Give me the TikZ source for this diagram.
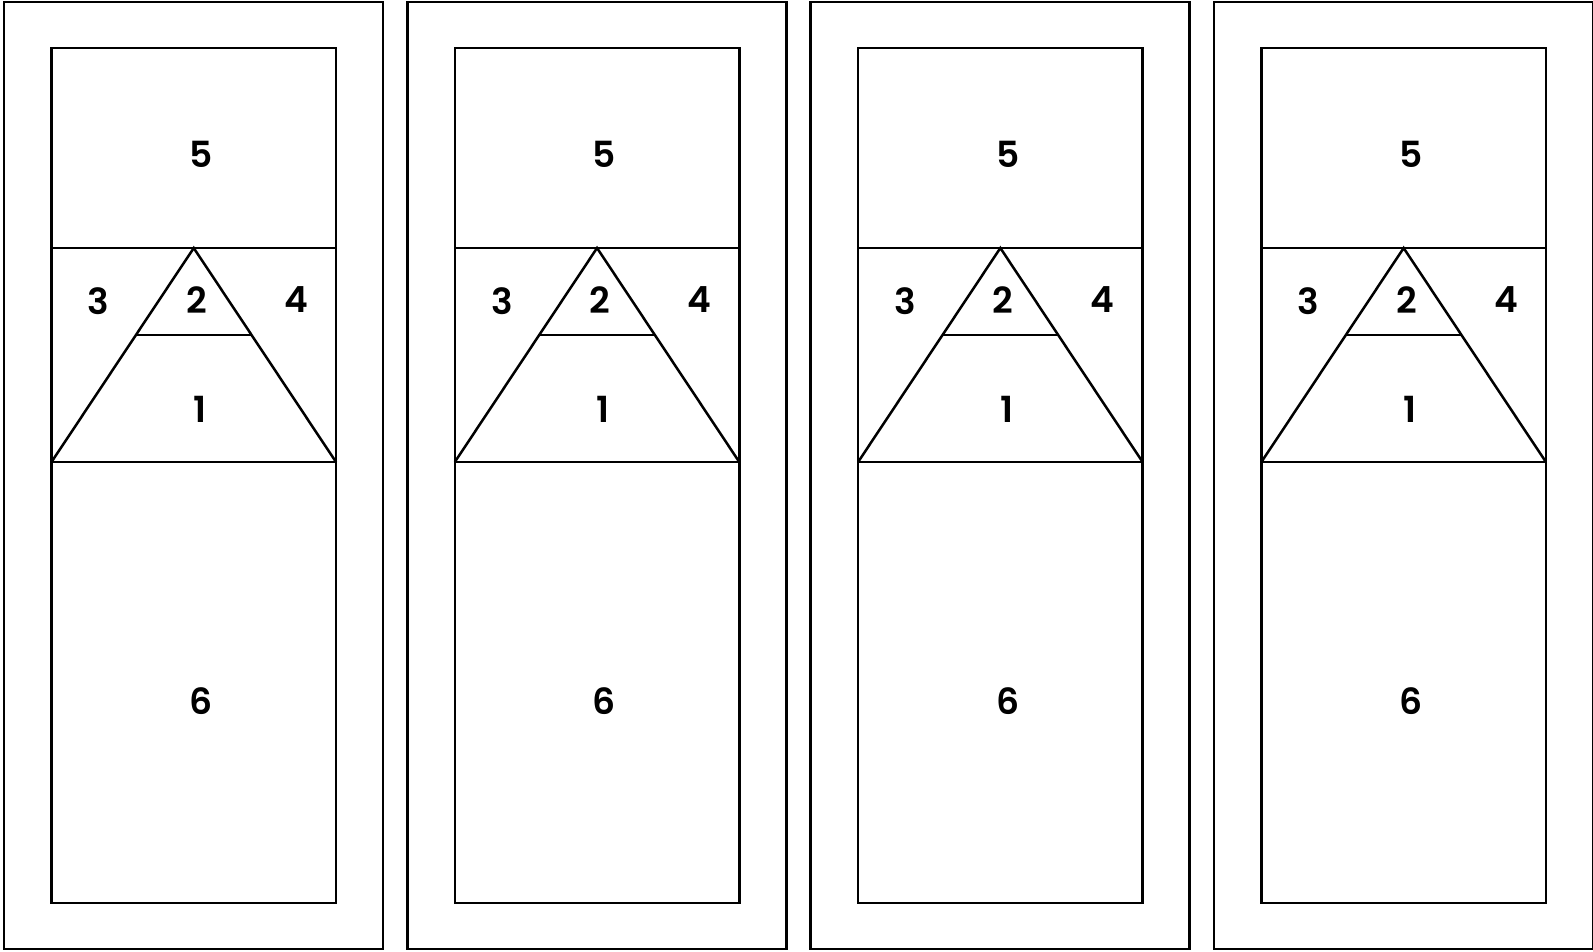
\documentclass[tikz,border=0pt]{standalone}
\usepackage{fontspec}
\setmainfont{Poppins}[BoldFont={Poppins SemiBold}]
\begin{document}
\begin{tikzpicture}[x=1pt,y=-1pt,
  panelline/.style={line width=2.5pt,line join=miter},
  numlabel/.style={font=\fontsize{36}{36}\selectfont\bfseries,inner sep=0pt,anchor=center}]
\useasboundingbox (0,0) rectangle (1593,951);
\foreach \i in {0,1,2,3}{
  \pgfmathsetmacro{\dx}{4+403.3*\i}
  \begin{scope}[xshift=\dx pt]
    % outer frame
    \draw[panelline] (0,2) rectangle (379,949);
    % inner board
    \draw[panelline] (47.5,48) rectangle (332,903);
    \draw[panelline] (47.5,248) -- (332,248);
    \draw[panelline] (47.5,462) -- (332,462);
    % triangle
    \coordinate (apex\i) at (189.75,248);
    \draw[panelline] (47.5,462) -- (apex\i) -- (332,462);
    \draw[panelline] (131.9,335) -- (247.6,335);
    % labels
    \node[numlabel] (five\i)  at (197,154) {5};
    \node[numlabel] (three\i) at (94.5,301) {3};
    \node[numlabel] (two\i)   at (192.5,300) {2};
    \node[numlabel] (four\i)  at (292,300) {4};
    \node[numlabel] (one\i)   at (196,409) {1};
    \node[numlabel] (six\i)   at (197,701) {6};
  \end{scope}
}
\end{tikzpicture}
\end{document}
